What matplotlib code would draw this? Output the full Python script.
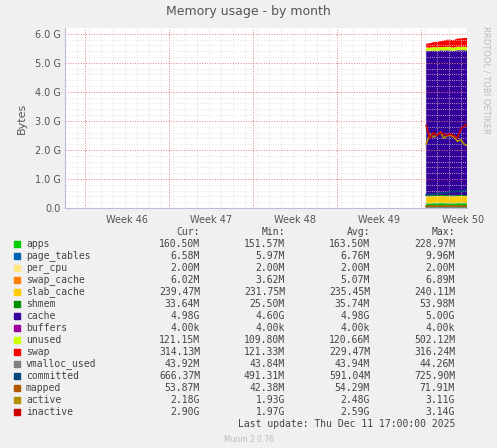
import numpy as np
import matplotlib
matplotlib.use("Agg")
import matplotlib.pyplot as plt

G = 1024 ** 3

# time in days since start of window; data only exists for the last ~3.5 days
t = np.array([30.1, 30.4, 30.7, 31.0, 31.3, 31.55, 31.8, 32.1, 32.4, 32.7, 33.0, 33.25, 33.5])
apps = np.array([0.16, 0.15, 0.16, 0.16, 0.17, 0.16, 0.16, 0.16, 0.15, 0.16, 0.17, 0.16, 0.16])
page_tables = np.full(13, 0.0065)
per_cpu = np.full(13, 0.002)
swap_cache = np.full(13, 0.005)
slab_cache = np.array([0.235, 0.236, 0.235, 0.234, 0.236, 0.235, 0.236, 0.235, 0.237, 0.236, 0.235, 0.238, 0.239])
shmem = np.full(13, 0.035)
cache = np.array([4.97, 4.98, 4.98, 4.97, 4.98, 4.98, 4.99, 4.98, 4.98, 4.99, 4.98, 4.99, 4.98])
buffers = np.full(13, 0.00001)
unused = np.array([0.12, 0.11, 0.12, 0.12, 0.11, 0.12, 0.12, 0.12, 0.11, 0.12, 0.12, 0.12, 0.12])
swap = np.array([0.13, 0.15, 0.17, 0.19, 0.2, 0.22, 0.24, 0.25, 0.26, 0.28, 0.29, 0.3, 0.31])
vmalloc_used = np.full(13, 0.043)
committed = np.array([0.45, 0.47, 0.48, 0.5, 0.51, 0.52, 0.53, 0.55, 0.56, 0.58, 0.59, 0.6, 0.62])
mapped = np.full(13, 0.053)
active = np.array([2.2, 2.55, 2.45, 2.5, 2.62, 2.4, 2.48, 2.5, 2.45, 2.3, 2.35, 2.2, 2.15])
inactive = np.array([2.85, 2.4, 2.6, 2.5, 2.6, 2.55, 2.5, 2.55, 2.5, 2.4, 2.75, 2.8, 2.9])

names = ["apps", "page_tables", "per_cpu", "swap_cache", "slab_cache", "shmem", "cache",
         "buffers", "unused", "swap", "vmalloc_used", "committed", "mapped", "active", "inactive"]
colors = ["#00CC00", "#0066B3", "#FFE680", "#FF8000", "#FFCC00", "#008F00", "#330099",
          "#990099", "#CCFF00", "#FF0000", "#808080", "#00487D", "#B35A00", "#B38F00", "#CC0000"]
cur = ["160.50M", "6.58M", "2.00M", "6.02M", "239.47M", "33.64M", "4.98G", "4.00k", "121.15M",
       "314.13M", "43.92M", "666.37M", "53.87M", "2.18G", "2.90G"]
mins = ["151.57M", "5.97M", "2.00M", "3.62M", "231.75M", "25.50M", "4.60G", "4.00k", "109.80M",
        "121.33M", "43.84M", "491.31M", "42.38M", "1.93G", "1.97G"]
avgs = ["163.50M", "6.76M", "2.00M", "5.07M", "235.45M", "35.74M", "4.98G", "4.00k", "120.66M",
        "229.47M", "43.94M", "591.04M", "54.29M", "2.48G", "2.59G"]
maxs = ["228.97M", "9.96M", "2.00M", "6.89M", "240.11M", "53.98M", "5.00G", "4.00k", "502.12M",
        "316.24M", "44.26M", "725.90M", "71.91M", "3.11G", "3.14G"]
week_labels = ["Week 46", "Week 47", "Week 48", "Week 49", "Week 50"]
week_starts = np.array([1.67, 8.67, 15.67, 22.67, 29.67])

fig = plt.figure(figsize=(4.97, 4.48), dpi=100, facecolor="#F0F0F0")
ax = fig.add_axes([65 / 497, 1 - 208 / 448, 402 / 497, 180 / 448])
ax.set_facecolor("white")

stack = [apps, page_tables, per_cpu, swap_cache, slab_cache, shmem, cache, buffers, unused, swap]
ax.stackplot(t, [s * G for s in stack], colors=colors[:10], linewidth=0)
for s, c in zip([vmalloc_used, committed, mapped, active, inactive], colors[10:]):
    ax.plot(t, s * G, color=c, linewidth=1.2)

ax.set_xlim(0, 33.5)
ax.set_ylim(0, 6.2 * G)
ax.set_yticks(np.arange(0, 6.1, 1.0) * G)
ax.set_yticklabels(["0.0"] + ["%.1f G" % v for v in np.arange(1, 6.1, 1.0)], fontsize=7, color="#555555")
ax.set_yticks(np.arange(0, 6.2, 0.2) * G, minor=True)
ax.set_xticks(week_starts)
ax.set_xticklabels([])
ax.set_xticks(np.arange(0, 33.5, 1.0), minor=True)
for ws, lab in zip(week_starts, week_labels):
    ax.text(ws + 3.5, -0.25 * G, lab, ha="center", va="top", fontsize=7, color="#555555", clip_on=False)
ax.grid(which="minor", color="#DDDDDD", linestyle=":", linewidth=0.6)
ax.grid(which="major", axis="x", color="#E08080", linestyle=":", linewidth=0.7)
ax.grid(which="major", axis="y", color="#E08080", linestyle=":", linewidth=0.7)
ax.tick_params(which="both", length=0, pad=3)
for sp in ["top", "right"]:
    ax.spines[sp].set_visible(False)
for sp in ["left", "bottom"]:
    ax.spines[sp].set_color("#BBBBDD")
ax.set_ylabel("Bytes", fontsize=8, color="#555555", labelpad=6)

fig.text(0.5, 1 - 12 / 448, "Memory usage - by month", ha="center", va="center", fontsize=9, color="#555555")
fig.text(486 / 497, 1 - 80 / 448, "RRDTOOL / TOBI OETIKER", rotation=270, ha="center", va="center",
         fontsize=6, color="#BBBBBB")

mono = "DejaVu Sans Mono"
y0 = 232
fs = 7
for x, h in zip([200, 285, 370, 455], ["Cur:", "Min:", "Avg:", "Max:"]):
    fig.text(x / 497, 1 - y0 / 448, h, ha="right", va="center", fontsize=fs, family=mono, color="#444444")
for i, n in enumerate(names):
    y = 1 - (y0 + 12 * (i + 1)) / 448
    fig.patches.append(plt.Rectangle((14 / 497, y - 3 / 448), 6 / 497, 6 / 448, color=colors[i],
                                     transform=fig.transFigure, figure=fig))
    fig.text(26 / 497, y, n, ha="left", va="center", fontsize=fs, family=mono, color="#444444")
    for x, v in zip([200, 285, 370, 455], [cur[i], mins[i], avgs[i], maxs[i]]):
        fig.text(x / 497, y, v, ha="right", va="center", fontsize=fs, family=mono, color="#444444")
fig.text(455 / 497, 1 - 424 / 448, "Last update: Thu Dec 11 17:00:00 2025", ha="right", va="center",
         fontsize=fs, family=mono, color="#444444")
fig.text(0.5, 1 - 439 / 448, "Munin 2.0.76", ha="center", va="center", fontsize=5.5, color="#BBBBBB")

fig.savefig("out.png", dpi=100, facecolor=fig.get_facecolor())
